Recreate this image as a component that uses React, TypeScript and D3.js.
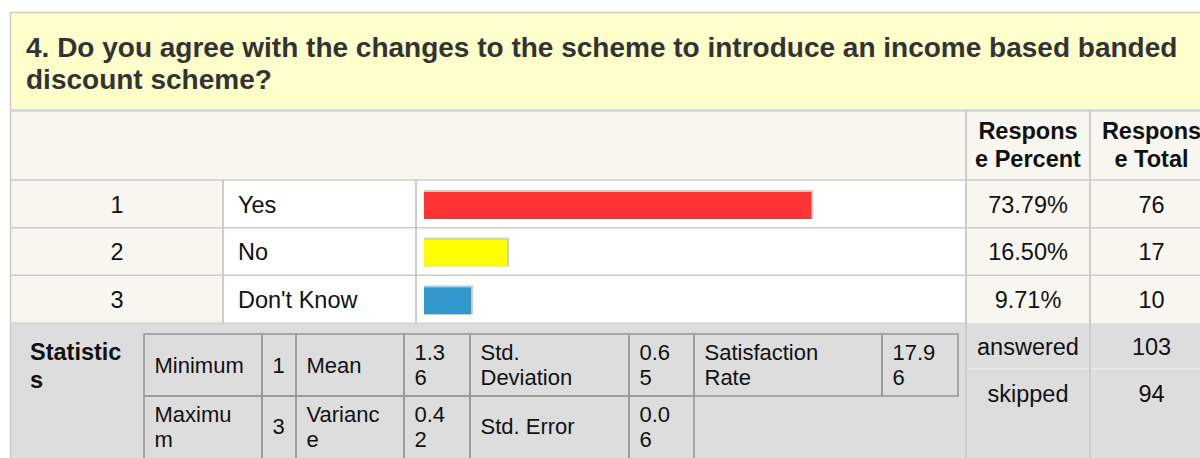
import React from "react";
import * as d3 from "d3";

const titleLines = [
  "4. Do you agree with the changes to the scheme to introduce an income based banded",
  "discount scheme?",
];
const rowNumbers = ["1", "2", "3"];
const categories = ["Yes", "No", "Don't Know"];
const percents = [73.79, 16.5, 9.71];
const percentLabels = ["73.79%", "16.50%", "9.71%"];
const totals = [76, 17, 10];
const barColors = ["#ff3333", "#ffff00", "#3399cc"];
const headerPercent = ["Respons", "e Percent"];
const headerTotal = ["Respons", "e Total"];
const statsLabel = ["Statistic", "s"];
const statsRow1 = [
  ["Minimum"], ["1"], ["Mean"], ["1.3", "6"], ["Std.", "Deviation"], ["0.6", "5"], ["Satisfaction", "Rate"], ["17.9", "6"],
];
const statsRow2 = [
  ["Maximu", "m"], ["3"], ["Varianc", "e"], ["0.4", "2"], ["Std. Error"], ["0.0", "6"],
];
const summaryLabels = ["answered", "skipped"];
const summaryValues = [103, 94];

const FONT = "'Liberation Sans', Arial, Helvetica, sans-serif";
const W = 1200;
const H = 458;
const LINE = "#cccccc";
const CREAM = "#f7f7f0";
const GREY = "#dddddd";

export default function App() {
  const colEdges = [11, 223, 416, 966, 1090, 1213];
  const rowBand = d3.scaleBand<string>().domain(categories).range([180, 323]).paddingInner(0).paddingOuter(0);
  const bh = rowBand.bandwidth();
  const barX0 = 424;
  const x = d3.scaleLinear().domain([0, 100]).range([0, 531]);

  const innerCols = [144, 262, 296, 404, 470, 629, 694, 882, 958];
  const innerRows = [334, 396, 457];

  const cellText = (lines: string[], x0: number, y0: number, y1: number, key: string) => {
    const lh = 25;
    const cy = (y0 + y1) / 2;
    const first = cy - ((lines.length - 1) * lh) / 2 + 7.8;
    return (
      <text key={key} fontFamily={FONT} fontSize={22} fill="#111">
        {lines.map((l, i) => (
          <tspan key={i} x={x0 + 10.5} y={first + i * lh}>{l}</tspan>
        ))}
      </text>
    );
  };

  return (
    <svg width={W} height={H} style={{ position: "absolute", left: 0, top: 0, display: "block", background: "#fff" }}>
      {/* title */}
      <rect x={11} y={13} width={W - 11} height={97.5} fill="#ffffcc" />
      <text fontFamily={FONT} fontSize={28} fontWeight="bold" fill="#333">
        {titleLines.map((l, i) => (
          <tspan key={i} x={26} y={56.5 + i * 32} >{l}</tspan>
        ))}
      </text>
      {/* header */}
      <rect x={11} y={111} width={W - 11} height={69} fill={CREAM} />
      {[headerPercent, headerTotal].map((hdr, j) => (
        <text key={j} fontFamily={FONT} fontSize={23.5} fontWeight="bold" fill="#111" textAnchor="middle">
          {hdr.map((l, i) => (
            <tspan key={i} x={(colEdges[3 + j] + colEdges[4 + j]) / 2} y={139.3 + i * 27.4}>{l}</tspan>
          ))}
        </text>
      ))}
      {/* data rows */}
      {categories.map((c, i) => {
        const y0 = rowBand(c)!;
        const fills = [CREAM, "#ffffff", "#ffffff", CREAM, CREAM];
        const w = x(percents[i]) - 2.5;
        return (
          <g key={c}>
            {fills.map((f, k) => (
              <rect key={k} x={colEdges[k]} y={y0} width={colEdges[k + 1] - colEdges[k]} height={bh} fill={f} />
            ))}
            <rect x={barX0} y={y0 + 10} width={w} height={29} fill="#cccccc" />
            <rect x={barX0} y={y0 + 12} width={w - 2} height={27} fill={barColors[i]} />
            <text x={(colEdges[0] + colEdges[1]) / 2} y={y0 + bh / 2 + 8.8} fontFamily={FONT} fontSize={23.5} fill="#111" textAnchor="middle">{rowNumbers[i]}</text>
            <text x={238} y={y0 + bh / 2 + 8.8} fontFamily={FONT} fontSize={23.5} fill="#111">{c}</text>
            <text x={(colEdges[3] + colEdges[4]) / 2} y={y0 + bh / 2 + 8.8} fontFamily={FONT} fontSize={23.5} fill="#111" textAnchor="middle">{percentLabels[i]}</text>
            <text x={(colEdges[4] + colEdges[5]) / 2} y={y0 + bh / 2 + 8.8} fontFamily={FONT} fontSize={23.5} fill="#111" textAnchor="middle">{totals[i]}</text>
          </g>
        );
      })}
      {/* statistics area */}
      <rect x={11} y={323} width={W - 11} height={H - 323} fill={GREY} />
      <text fontFamily={FONT} fontSize={23.5} fontWeight="bold" fill="#111">
        {statsLabel.map((l, i) => (
          <tspan key={i} x={30} y={359.5 + i * 28}>{l}</tspan>
        ))}
      </text>
      {statsRow1.map((lines, k) => (
        <rect key={"r1" + k} x={innerCols[k]} y={innerRows[0]} width={innerCols[k + 1] - innerCols[k]} height={innerRows[1] - innerRows[0]} fill="none" stroke="#999" strokeWidth={1.6} />
      ))}
      {statsRow2.map((lines, k) => (
        <rect key={"r2" + k} x={innerCols[k]} y={innerRows[1]} width={innerCols[k + 1] - innerCols[k]} height={innerRows[2] - innerRows[1] + 4} fill="none" stroke="#999" strokeWidth={1.6} />
      ))}
      {statsRow1.map((lines, k) => cellText(lines, innerCols[k], innerRows[0], innerRows[1], "t1" + k))}
      {statsRow2.map((lines, k) => cellText(lines, innerCols[k], innerRows[1], innerRows[2], "t2" + k))}
      {summaryLabels.map((l, i) => (
        <g key={l}>
          <text x={(colEdges[3] + colEdges[4]) / 2} y={355 + i * 46.5} fontFamily={FONT} fontSize={23.5} fill="#111" textAnchor="middle">{l}</text>
          <text x={(colEdges[4] + colEdges[5]) / 2} y={355 + i * 46.5} fontFamily={FONT} fontSize={23.5} fill="#111" textAnchor="middle">{summaryValues[i]}</text>
        </g>
      ))}
      <line x1={966} x2={W} y1={369} y2={369} stroke="#e6e6e6" strokeWidth={2} />
      {/* grid lines */}
      <line x1={11} x2={W} y1={110.5} y2={110.5} stroke={LINE} strokeWidth={2} />
      {categories.map((c) => (
        <line key={c} x1={11} x2={W} y1={rowBand(c)!} y2={rowBand(c)!} stroke={LINE} strokeWidth={1.5} />
      ))}
      <line x1={11} x2={966} y1={323} y2={323} stroke={LINE} strokeWidth={1.2} />
      {[colEdges[1], colEdges[2]].map((cx) => (
        <line key={cx} x1={cx} x2={cx} y1={180} y2={323} stroke={LINE} strokeWidth={2} />
      ))}
      {[colEdges[3], colEdges[4]].map((cx) => (
        <line key={cx} x1={cx} x2={cx} y1={111} y2={H} stroke={LINE} strokeWidth={2} />
      ))}
      <line x1={10.5} x2={10.5} y1={12} y2={H} stroke={LINE} strokeWidth={1.5} />
      <line x1={10} x2={W} y1={12.5} y2={12.5} stroke={LINE} strokeWidth={1.5} />
    </svg>
  );
}
